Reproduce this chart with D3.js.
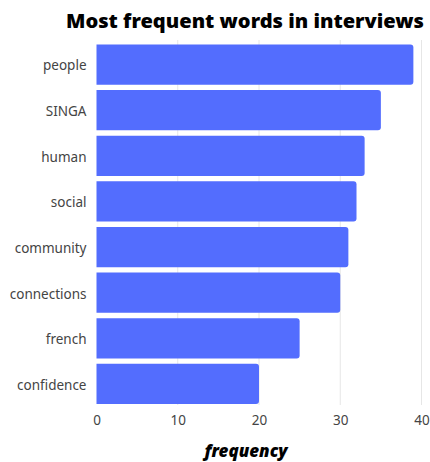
<!DOCTYPE html>
<html>
<head>
<meta charset="utf-8">
<script src="https://cdn.jsdelivr.net/npm/d3@7"></script>
<style>
  body { margin: 0; background: #fff; }
  text { font-family: "Noto Sans", sans-serif; }
</style>
</head>
<body>
<div id="chart"></div>
<script>
// Chart data
var words = ["people", "SINGA", "human", "social", "community", "connections", "french", "confidence"];
var counts = [39, 35, 33, 32, 31, 30, 25, 20];
var xTicks = [0, 10, 20, 30, 40];

var svgWidth = 430;
var svgHeight = 462;

var svg = d3.select("#chart")
  .append("svg")
  .attr("width", svgWidth)
  .attr("height", svgHeight);

// Scales
var xScale = d3.scaleLinear()
  .domain([0, 40])
  .range([96.5, 421.5]);

var yScale = d3.scaleBand()
  .domain(words)
  .range([44.5, 404])
  .paddingInner(0.12)
  .paddingOuter(0);

// Gridlines
svg.append("g")
  .selectAll("line")
  .data(xTicks.slice(1))
  .enter()
  .append("line")
  .attr("x1", d => xScale(d))
  .attr("x2", d => xScale(d))
  .attr("y1", 40)
  .attr("y2", 405)
  .attr("stroke", "#e6e6e6")
  .attr("stroke-width", 1);

// Bars (rounded on the right end)
function barPath(d, i) {
  var x0 = xScale(0), x1 = xScale(d), y0 = yScale(words[i]), h = yScale.bandwidth(), r = 3;
  return "M" + x0 + "," + y0 +
    "H" + (x1 - r) + "Q" + x1 + "," + y0 + " " + x1 + "," + (y0 + r) +
    "V" + (y0 + h - r) + "Q" + x1 + "," + (y0 + h) + " " + (x1 - r) + "," + (y0 + h) +
    "H" + x0 + "Z";
}

svg.append("g")
  .selectAll("path")
  .data(counts)
  .enter()
  .append("path")
  .attr("d", barPath)
  .attr("fill", "#536dfe");

// Y axis labels
var leftAxis = d3.axisLeft(yScale).tickSize(0).tickPadding(10);
var yAxisG = svg.append("g")
  .attr("transform", "translate(" + xScale(0) + ",1.5)")
  .call(leftAxis);
yAxisG.select(".domain").remove();
yAxisG.selectAll("text")
  .attr("font-family", "'Noto Sans', sans-serif")
  .attr("font-size", 13.5)
  .attr("fill", "#444");

// X axis
var bottomAxis = d3.axisBottom(xScale).tickValues(xTicks).tickSize(0).tickPadding(10);
var xAxisG = svg.append("g")
  .attr("transform", "translate(0,405)")
  .call(bottomAxis);
xAxisG.select(".domain").remove();
xAxisG.selectAll("text")
  .attr("font-family", "'Noto Sans', sans-serif")
  .attr("font-size", 13.5)
  .attr("fill", "#444");

// Title
svg.append("text")
  .text("Most frequent words in interviews")
  .attr("x", 245)
  .attr("y", 28)
  .attr("text-anchor", "middle")
  .attr("font-family", "Lato, sans-serif")
  .attr("font-weight", 900)
  .attr("font-size", 20)
  .attr("textLength", 358)
  .attr("lengthAdjust", "spacingAndGlyphs")
  .attr("fill", "#000");

// X axis title
svg.append("text")
  .text("frequency")
  .attr("x", 246)
  .attr("y", 457)
  .attr("text-anchor", "middle")
  .attr("font-family", "Lato, sans-serif")
  .attr("font-weight", 900)
  .attr("font-style", "italic")
  .attr("font-size", 17)
  .attr("fill", "#000");
</script>
</body>
</html>
